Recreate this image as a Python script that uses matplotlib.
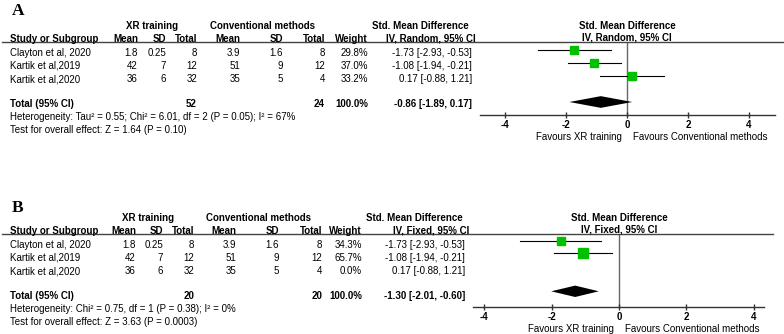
import numpy as np
import matplotlib
matplotlib.use('Agg')
from matplotlib import pyplot as plt
from matplotlib.lines import Line2D


# =============================================================================
# Data
# =============================================================================
studies = ['Clayton et al, 2020', 'Kartik et al,2019', 'Kartik et al,2020']
xr_mean = ['1.8', '42', '36']
xr_sd = ['0.25', '7', '6']
xr_n = ['8', '12', '32']
conv_mean = ['3.9', '51', '35']
conv_sd = ['1.6', '9', '5']
conv_n = ['8', '12', '4']
smd = [-1.73, -1.08, 0.17]
ci_low = [-2.93, -1.94, -0.88]
ci_high = [-0.53, -0.21, 1.21]

weights_a = [29.8, 37.0, 33.2]
total_a = [-0.86, -1.89, 0.17]
n_total_a = ['52', '24']
het_a = 'Heterogeneity: Tau\u00b2 = 0.55; Chi\u00b2 = 6.01, df = 2 (P = 0.05); I\u00b2 = 67%'
test_a = 'Test for overall effect: Z = 1.64 (P = 0.10)'

weights_b = [34.3, 65.7, 0.0]
total_b = [-1.30, -2.01, -0.60]
n_total_b = ['20', '20']
het_b = 'Heterogeneity: Chi\u00b2 = 0.75, df = 1 (P = 0.38); I\u00b2 = 0%'
test_b = 'Test for overall effect: Z = 3.63 (P = 0.0003)'

xticks = [-4, -2, 0, 2, 4]


# =============================================================================
# Plot parameters
# =============================================================================
matplotlib.rcParams['font.family'] = ['Liberation Sans', 'DejaVu Sans']
matplotlib.rcParams['font.size'] = 7
W, H = 784, 334
fig = plt.figure(figsize=(W / 100, H / 100), dpi=100)

def fx(x):
	return x / W

def fy(y):
	return 1 - y / H

def put(x, y, s, ha='left', bold=False, **kw):
	fig.text(fx(x), fy(y), s, ha=ha, va='center',
		fontweight='bold' if bold else 'normal', **kw)


# =============================================================================
# Draw one panel
# =============================================================================
def panel(letter, top, lab_y, cols, grp, weights, total, n_total, het, test,
	model, forest, line_end):
	# top: pixel y of the group header row
	# cols: right edges of the table columns, grp: centres of group headers
	y_grp = top
	y_hdr = top + 12.5
	y_line = top + 16
	y_rows = [top + 27, top + 40, top + 53]
	y_tot = top + 78
	y_het = top + 91
	y_test = top + 104

	fig.text(fx(12), fy(lab_y), letter, family='Liberation Serif',
		fontweight='bold', fontsize=12.5, va='center', ha='left')

	c_xm, c_xs, c_xn, c_cm, c_cs, c_cn, c_w, c_smd = cols
	put(grp[0], y_grp, 'XR training', ha='center', bold=True)
	put(grp[1], y_grp, 'Conventional methods', ha='center', bold=True)
	put(grp[2], y_grp, 'Std. Mean Difference', ha='center', bold=True)
	put(10, y_hdr, 'Study or Subgroup', bold=True)
	for x, s in zip([c_xm, c_xs, c_xn, c_cm, c_cs, c_cn, c_w],
		['Mean', 'SD', 'Total', 'Mean', 'SD', 'Total', 'Weight']):
		put(x, y_hdr, s, ha='right', bold=True)
	put(c_smd + 4, y_hdr, 'IV, ' + model + ', 95% CI', ha='right', bold=True)

	fig.add_artist(Line2D([fx(2), fx(line_end)], [fy(y_line), fy(y_line)],
		color='#444444', linewidth=1.0))

	for i in range(len(studies)):
		y = y_rows[i]
		put(10, y, studies[i])
		for x, s in zip([c_xm, c_xs, c_xn, c_cm, c_cs, c_cn],
			[xr_mean[i], xr_sd[i], xr_n[i], conv_mean[i], conv_sd[i],
			conv_n[i]]):
			put(x, y, s, ha='right')
		put(c_w, y, '%.1f%%' % weights[i], ha='right')
		put(c_smd, y, '%.2f [%.2f, %.2f]' % (smd[i], ci_low[i], ci_high[i]),
			ha='right')

	put(10, y_tot, 'Total (95% CI)', bold=True)
	put(c_xn, y_tot, n_total[0], ha='right', bold=True)
	put(c_cn, y_tot, n_total[1], ha='right', bold=True)
	put(c_w, y_tot, '100.0%', ha='right', bold=True)
	put(c_smd, y_tot, '%.2f [%.2f, %.2f]' % tuple(total), ha='right',
		bold=True)
	put(10, y_het, het)
	put(10, y_test, test)

	# Forest plot
	x0, x1, xmin, xmax, zero_px = forest
	y_axis = top + 89
	step = 13 if letter == 'A' else 12.65
	row0 = y_line + 8 if letter == 'A' else y_line + 6.7
	ax = fig.add_axes([fx(x0), fy(y_axis), fx(x1) - fx(x0),
		fy(y_line) - fy(y_axis)])
	ax.set_xlim(xmin, xmax)
	ax.set_ylim((y_axis - row0) / step, (y_line - row0) / step)
	ax.axvline(0, color='#666666', linewidth=1.0, zorder=1)
	for i in range(len(studies)):
		if weights[i] <= 0:
			continue
		ax.plot([ci_low[i], ci_high[i]], [i, i], color='black', linewidth=0.8,
			zorder=2)
		ax.plot(smd[i], i, marker='s', color='#00c000', linestyle='none',
			markersize=1.25 * np.sqrt(weights[i]) * 0.72 * 1.05, zorder=3)
	est, lo, hi = total
	ax.fill([lo, est, hi, est], [4, 3.55, 4, 4.45], color='black',
		linewidth=0, zorder=3)
	for s in ['top', 'left', 'right']:
		ax.spines[s].set_visible(False)
	ax.spines['bottom'].set_color('#333333')
	ax.spines['bottom'].set_linewidth(1.0)
	ax.set_yticks([])
	ax.set_xticks(xticks)
	ax.set_xticklabels(['%d' % t for t in xticks], fontweight='bold')
	ax.tick_params(axis='x', direction='inout', length=5, width=1.0,
		color='#333333', pad=1)
	ax.patch.set_alpha(0)

	put(zero_px, y_grp, 'Std. Mean Difference', ha='center', bold=True)
	put(zero_px, y_hdr - 1, 'IV, ' + model + ', 95% CI', ha='center',
		bold=True)
	put(zero_px - 5, y_axis + 22, 'Favours XR training', ha='right')
	put(zero_px + 6, y_axis + 22, 'Favours Conventional methods', ha='left')


panel('A', 26, 11, [138, 166, 197, 240, 283, 325, 368, 472], [152, 262, 420],
	weights_a, total_a, n_total_a, het_a, test_a, 'Random',
	(480, 775, -4.82, 4.85, 627), 784)
panel('B', 218, 208.5, [136, 163, 194, 236, 279, 322, 362, 465],
	[148, 258, 414], weights_b, total_b, n_total_b, het_b, test_b, 'Fixed',
	(473, 764, -4.33, 4.3, 619), 773)

plt.savefig('out.png', dpi=100)
